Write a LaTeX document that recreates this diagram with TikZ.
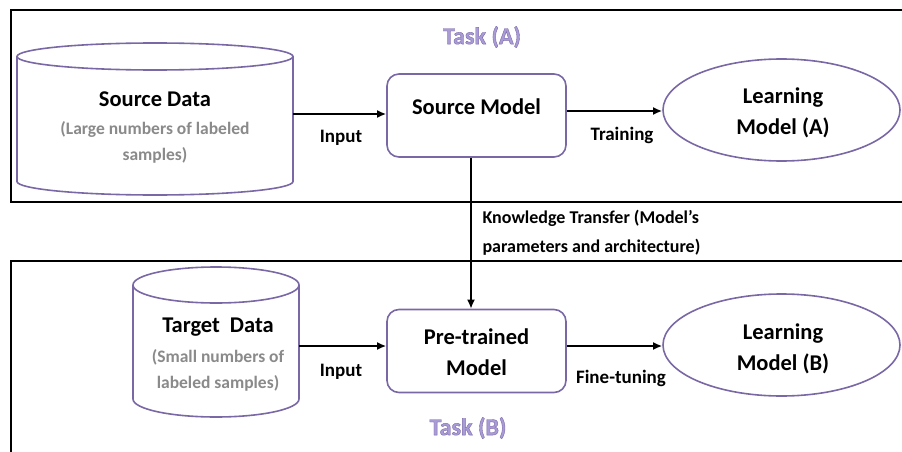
\documentclass[tikz,border=0pt]{standalone}
\usepackage{fontspec}
\setmainfont{Carlito}
\newfontfamily\taskfont[FakeBold=1.6]{Carlito Bold}
\usetikzlibrary{arrows.meta,calc,shapes.geometric}
\definecolor{cylpurple}{HTML}{7A68A6}
\definecolor{graytxt}{HTML}{8A8A8A}
\definecolor{tasktxt}{HTML}{A99BD6}
\tikzset{
  frame/.style={draw=black,line width=2pt},
  purp/.style={draw=cylpurple,line width=1.6pt,fill=white},
  modelbox/.style={purp,rounded corners=12pt,minimum width=179pt,minimum height=83pt,inner sep=0pt},
  lmodel/.style={purp,ellipse,minimum width=237pt,minimum height=102pt,inner sep=0pt},
  maintxt/.style={font=\fontsize{22.5}{31}\selectfont\bfseries,align=center,text=black},
  graylab/.style={font=\fontsize{17.5}{26}\selectfont\bfseries,align=center,text=graytxt},
  arrlab/.style={font=\fontsize{19}{29}\selectfont\bfseries,text=black},
  tasklab/.style={font=\fontsize{24}{28}\taskfont,text=tasktxt},
  conn/.style={line width=2pt,-{Latex[length=9pt,width=8pt]}},
  ghost/.style={inner sep=0pt,outer sep=0pt}
}
\newcommand{\taskstroke}{\special{pdf:code 0.478 0.408 0.651 RG}}
\begin{document}
\begin{tikzpicture}[x=1pt,y=1pt]
\useasboundingbox (0,0) rectangle (902,451);
\begin{scope}
\clip (0,0) rectangle (902,451);
% task frames
\draw[frame] (11,441) rectangle (910,249);
\draw[frame] (11,190.5) rectangle (910,-10);

% source cylinder
\filldraw[purp] (17,394.5) -- (17,269.5) arc[start angle=180,end angle=360,x radius=138,y radius=13.5] -- (293,394.5);
\filldraw[purp] (155,394.5) ellipse [x radius=138,y radius=13.5];
\node[ghost,minimum width=276pt,minimum height=152pt] (srcdata) at (155,332) {};
\node[maintxt] (srctitle) at (155,352) {Source Data};
\node[graylab] (srcsub) at (155,309) {(Large numbers of labeled\\samples)};

% target cylinder
\filldraw[purp] (133,166) -- (133,52) arc[start angle=180,end angle=360,x radius=83,y radius=18] -- (299,166);
\filldraw[purp] (216,166) ellipse [x radius=83,y radius=18];
\node[ghost,minimum width=166pt,minimum height=150pt] (tgtdata) at (216,109) {};
\node[maintxt] (tgttitle) at (218,124) {Target\;\,Data};
\node[graylab] (tgtsub) at (218,81) {(Small numbers of\\labeled samples)};

% model boxes
\node[modelbox] (smodel) at (476.5,335.5) {};
\node[maintxt] (smodeltxt) at (476.5,344) {Source Model};
\node[modelbox] (pmodel) at (476.5,100) {};
\node[maintxt] (pmodeltxt) at (476.5,99) {Pre-trained\\Model};

% learning models
\node[lmodel] (lma) at (781.5,341) {};
\node[maintxt] (lmatxt) at (783,338) {Learning\\Model (A)};
\node[lmodel] (lmb) at (781.5,106) {};
\node[maintxt] (lmbtxt) at (783,102) {Learning\\Model (B)};

% connectors
\draw[conn] (srcdata.east |- 0,337) -- (smodel.west |- 0,337);
\draw[conn] (smodel.east |- 0,340) -- (lma.west |- 0,340);
\draw[conn] (tgtdata.east |- 0,105) -- (pmodel.west |- 0,105);
\draw[conn] (pmodel.east |- 0,105) -- (lmb.west |- 0,105);
\draw[conn] ([xshift=-5.5pt]smodel.south) -- ([xshift=-5.5pt]pmodel.north);

% labels
\node[arrlab] (inA) at (341,313) {Input};
\node[arrlab] (trn) at (622,316) {Training};
\node[arrlab] (inB) at (341,79) {Input};
\node[arrlab] (ftn) at (621,73) {Fine-tuning};
\node[arrlab,font=\fontsize{18}{29}\selectfont\bfseries,align=left,anchor=west] (kt) at (479,218.5) {Knowledge Transfer (Model’s\\parameters and architecture)};

% task titles
\node[tasklab] (taskA) at (482,414) {\taskstroke Task (A)};
\node[tasklab] (taskB) at (468,23) {\taskstroke Task (B)};
\end{scope}
\end{tikzpicture}
\end{document}
